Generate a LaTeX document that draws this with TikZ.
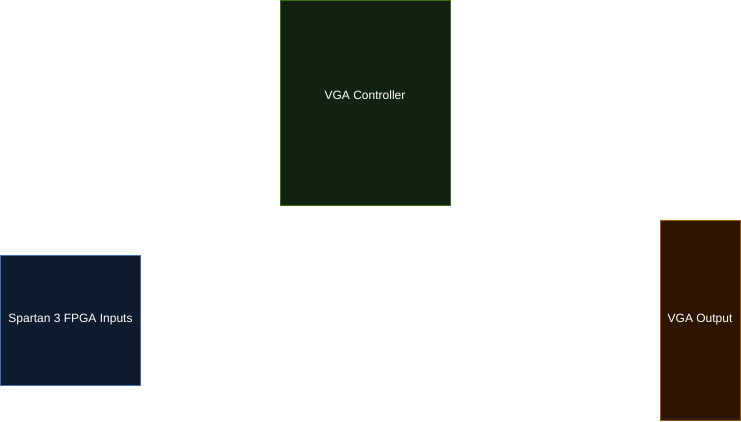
\documentclass[tikz,border=0pt]{standalone}
\usepackage{fontspec}
\setmainfont{Liberation Sans}
\usepackage{xcolor}
\usetikzlibrary{positioning}
\definecolor{ctrlfill}{RGB}{17,34,17}
\definecolor{ctrlline}{RGB}{60,110,20}
\definecolor{infill}{RGB}{13,27,46}
\definecolor{inline}{RGB}{70,110,180}
\definecolor{outfill}{RGB}{46,21,0}
\definecolor{outline}{RGB}{160,90,10}

\begin{document}
\begin{tikzpicture}[
    x=1pt, y=-1pt,
    block/.style={rectangle, inner sep=0pt, text=white,
                  font=\fontsize{12}{14}\selectfont, line width=1pt},
]
\useasboundingbox (0,0) rectangle (741,421);
\node[block, draw=ctrlline, fill=ctrlfill, minimum width=170pt, minimum height=205pt, text depth=14pt] (ctrl) at (365,102.5) {VGA Controller};
\node[block, draw=inline, fill=infill, minimum width=140pt, minimum height=130pt] (inputs) at (70.5,320) {Spartan 3 FPGA Inputs};
\node[block, draw=outline, fill=outfill, minimum width=80pt, minimum height=200pt] (output) at (700,320) {VGA Output};
\end{tikzpicture}
\end{document}
